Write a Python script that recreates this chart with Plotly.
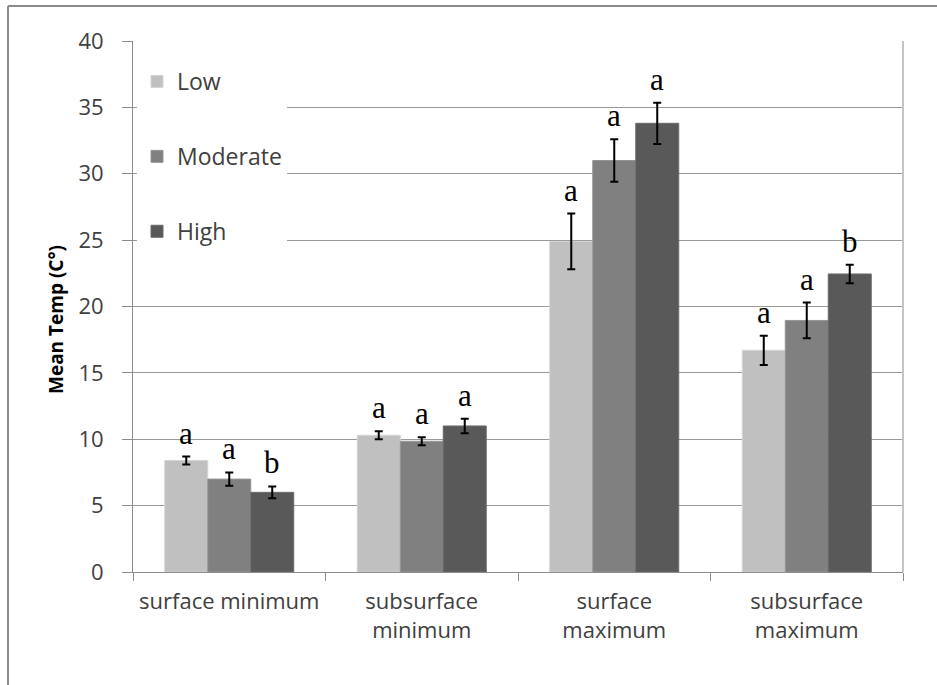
import plotly.graph_objects as go

categories = ["surface minimum", "subsurface<br>minimum", "surface<br>maximum", "subsurface<br>maximum"]
series_names = ["Low", "Moderate", "High"]
low_vals = [8.4, 10.3, 24.9, 16.7]
mod_vals = [7.0, 9.85, 31.0, 18.95]
high_vals = [6.0, 11.0, 33.8, 22.45]
low_err = [0.3, 0.3, 2.1, 1.1]
mod_err = [0.5, 0.3, 1.6, 1.35]
high_err = [0.45, 0.55, 1.55, 0.7]
low_letters = ["a", "a", "a", "a"]
mod_letters = ["a", "a", "a", "a"]
high_letters = ["b", "a", "a", "b"]
y_ticks = [0, 5, 10, 15, 20, 25, 30, 35, 40]

colors = ["#c0c0c0", "#808080", "#595959"]
edge = ["#d4d4d4", "#959595", "#6a6a6a"]

W, H = 937, 685
L, R, T, B = 133, 34, 41, 113
pw, ph = W - L - R, H - T - B
BARGAP = 0.33
bw = (1 - BARGAP) / 3

fig = go.Figure()
vals = [low_vals, mod_vals, high_vals]
errs = [low_err, mod_err, high_err]
letters = [low_letters, mod_letters, high_letters]
for j, name in enumerate(series_names):
    fig.add_trace(go.Bar(
        x=categories, y=vals[j], name=name, legendgroup=name,
        marker=dict(color=colors[j], line=dict(color=edge[j], width=1)),
        error_y=dict(type="data", array=errs[j], visible=True, color="black", thickness=2, width=4),
    ))
    for i in range(len(categories)):
        fig.add_annotation(
            x=i + (j - 1) * bw, y=vals[j][i] + errs[j][i], xref="x", yref="y",
            text=letters[j][i], showarrow=False, yanchor="bottom", yshift=4,
            font=dict(family="Liberation Serif", size=31, color="black"),
        )

fig.add_annotation(
    x=(56 - L) / pw, y=(H - B - 320) / ph, xref="paper", yref="paper",
    xanchor="center", yanchor="middle",
    text="<b>Mean Temp (C°)</b>", textangle=-90, showarrow=False,
    font=dict(family="Open Sans", size=19, color="black"),
)

# outer frame (left and top)
fx = (8 - L) / pw
fy = 1 + (T - 6) / ph
fig.add_shape(type="line", xref="paper", yref="paper", x0=fx, x1=fx, y0=-0.5, y1=fy,
              line=dict(color="#8a8a8a", width=2))
fig.add_shape(type="line", xref="paper", yref="paper", x0=fx, x1=1.2, y0=fy, y1=fy,
              line=dict(color="#8a8a8a", width=2))
# right edge of plot area
fig.add_shape(type="line", xref="paper", yref="paper", x0=1, x1=1, y0=0, y1=1,
              line=dict(color="#c4c4c4", width=2))

fig.update_layout(
    width=W, height=H,
    margin=dict(l=L, r=R, t=T, b=B, autoexpand=False),
    paper_bgcolor="white", plot_bgcolor="white",
    barmode="group", bargap=BARGAP, bargroupgap=0,
    font=dict(family="Open Sans", color="#404040"),
    legend=dict(x=(137 - L) / pw, y=(H - B - 60) / ph, xanchor="left", yanchor="top",
                bgcolor="white", font=dict(size=23, color="#404040"),
                tracegroupgap=42, itemclick=False, itemwidth=30),
    showlegend=True,
)
fig.update_xaxes(
    showline=True, linecolor="#8c8c8c", linewidth=1, tickangle=0,
    ticks="outside", tickson="boundaries", ticklen=8, tickcolor="#8c8c8c",
    tickfont=dict(size=22, color="#404040"), ticklabelstandoff=10, showgrid=False,
)
fig.update_yaxes(
    range=[0, 40], tickvals=y_ticks, showline=True, linecolor="#8c8c8c", linewidth=1,
    ticks="outside", ticklen=10, tickcolor="#8c8c8c",
    tickfont=dict(size=22, color="#404040"), ticklabelstandoff=14,
    showgrid=True, gridcolor="#9a9a9a", gridwidth=1, zeroline=False,
)

fig.write_html("out.html")
